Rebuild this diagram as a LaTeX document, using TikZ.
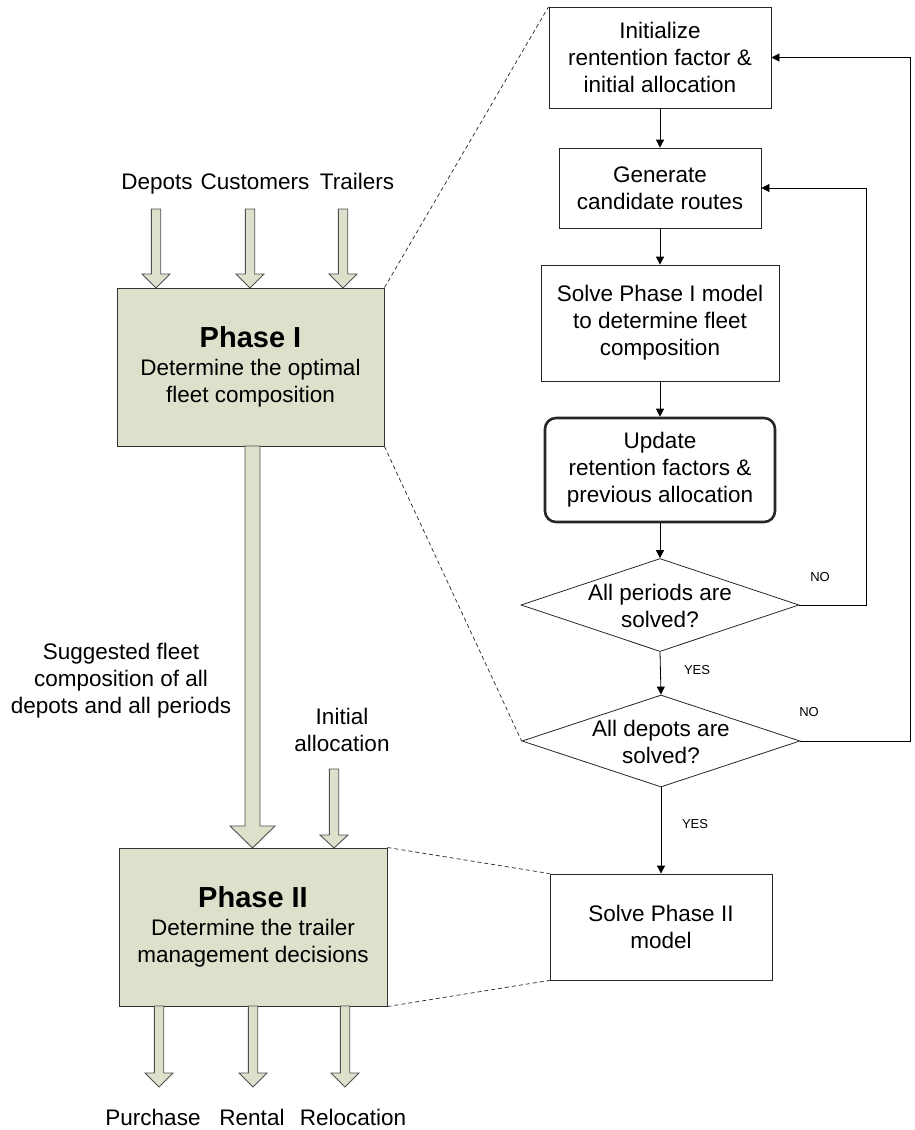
\documentclass[tikz,border=0pt]{standalone}
\usepackage{fontspec}
\setmainfont{Liberation Sans}
\usetikzlibrary{arrows.meta,shapes.geometric}
\definecolor{phfill}{RGB}{221,224,203}
\definecolor{phline}{RGB}{50,50,50}
\definecolor{baline}{RGB}{80,80,80}
\newcommand{\mainf}{\fontsize{22.5}{27}\selectfont}
\newcommand{\smallf}{\fontsize{13}{15}\selectfont}
\newcommand{\titlef}{\fontsize{29}{32}\selectfont\bfseries}
% block arrow: x, ytop, ybase, ytip, shaft half width, head half width
\newcommand{\barrow}[6]{%
  \filldraw[fill=phfill, draw=baline, line width=0.9pt]
    ({#1-#5},#2) -- ({#1+#5},#2) -- ({#1+#5},#3) -- ({#1+#6},#3) -- (#1,#4)
    -- ({#1-#6},#3) -- ({#1-#5},#3) -- cycle;}
\begin{document}
\begin{tikzpicture}[x=1pt,y=-1pt,
  box/.style={draw=black!85, line width=0.8pt, fill=white, align=center, inner sep=0pt, font=\mainf},
  phase/.style={draw=phline, line width=1pt, fill=phfill, align=center, inner sep=0pt, font=\mainf},
  dia/.style={draw=black!85, line width=0.8pt, shape=diamond, inner sep=0pt},
  txt/.style={align=center, inner sep=0pt, font=\mainf},
  btxt/.style={anchor=base, inner sep=0pt, font=\mainf},
  lbl/.style={inner sep=0pt, font=\smallf},
  arr/.style={draw=black, line width=0.8pt, -{Triangle[length=8pt,width=8pt]}},
  zoomline/.style={draw=black!85, line width=0.7pt, dash pattern=on 4pt off 3pt}]
\useasboundingbox (0,0) rectangle (915,1130);
\fill[white] (0,0) rectangle (915,1130);

% right flowchart
\node[box, minimum width=222pt, minimum height=101pt] (init) at (660,57.5)
  {Initialize\\rentention factor \&\\initial allocation};
\node[box, minimum width=202pt, minimum height=80pt] (gen) at (660,188)
  {Generate\\candidate routes};
\node[box, minimum width=238pt, minimum height=116pt] (s1) at (660,323)
  {Solve Phase I model\\to determine fleet\\composition};
\node[box, line width=2.6pt, rounded corners=11pt, minimum width=230pt, minimum height=104pt] (upd) at (660,470)
  {Update\\retention factors \&\\previous allocation};
\node[dia, minimum width=278pt, minimum height=93pt] (d1) at (660,605) {};
\node[txt] (d1t) at (660,606) {All periods are\\solved?};
\node[dia, minimum width=278pt, minimum height=92pt] (d2) at (661,741) {};
\node[txt] (d2t) at (661,742) {All depots are\\solved?};
\node[box, minimum width=222pt, minimum height=106pt] (s2) at (661,927)
  {Solve Phase II\\model};

% phase boxes
\node[phase, minimum width=267pt, minimum height=158pt] (ph1) at (250.5,367)
  {{\titlef Phase I}\\[1pt]Determine the optimal\\fleet composition};
\node[phase, minimum width=268pt, minimum height=158pt] (ph2) at (253,927)
  {{\titlef Phase II}\\[1pt]Determine the trailer\\management decisions};

% dashed zoom lines
\draw[zoomline] (ph1.north east) -- (init.north west);
\draw[zoomline] (ph1.south east) -- (d2.west);
\draw[zoomline] (ph2.north east) -- (s2.north west);
\draw[zoomline] (ph2.south east) -- (s2.south west);

% flow connectors
\draw[arr] (init.south) -- (gen.north);
\draw[arr] (gen.south) -- (s1.north);
\draw[arr] (s1.south) -- (upd.north);
\draw[arr] (upd.south) -- (d1.north);
\draw[arr] (d1.south) -- (d2.north);
\draw[arr] (d2.south) -- (s2.north);
\draw[arr] (d1.east) -- ++(67,0) |- (gen.east);
\draw[arr] (d2.east) -- ++(110,0) |- (init.east);

\node[lbl] (no1) at (820,577) {NO};
\node[lbl] (yes1) at (697,670) {YES};
\node[lbl] (no2) at (809,712) {NO};
\node[lbl] (yes2) at (695,824) {YES};

% input labels and block arrows of phase I
\node[btxt] (ldep) at (157,189) {Depots};
\node[btxt] (lcus) at (255,189) {Customers};
\node[btxt] (ltra) at (357,189) {Trailers};
\barrow{156}{209}{274}{288}{4.7}{14}
\barrow{250}{209}{274}{288}{4.7}{14}
\barrow{343}{209}{274}{288}{4.7}{14}

% big arrow phase I -> phase II
\barrow{252.5}{446}{826}{848}{7.5}{22.5}
\node[txt] (lsug) at (121,681) {Suggested fleet\\composition of all\\depots and all periods};

% initial allocation arrow
\node[txt] (lini) at (342,730) {Initial\\allocation};
\barrow{334}{769}{835}{848}{4.7}{14}

% outputs of phase II
\barrow{159}{1006}{1073}{1087}{4.7}{14}
\barrow{253}{1006}{1073}{1087}{4.7}{14}
\barrow{345}{1006}{1073}{1087}{4.7}{14}
\node[btxt] (lpur) at (153,1125) {Purchase};
\node[btxt] (lren) at (252,1125) {Rental};
\node[btxt] (lrel) at (353,1125) {Relocation};
\end{tikzpicture}
\end{document}
